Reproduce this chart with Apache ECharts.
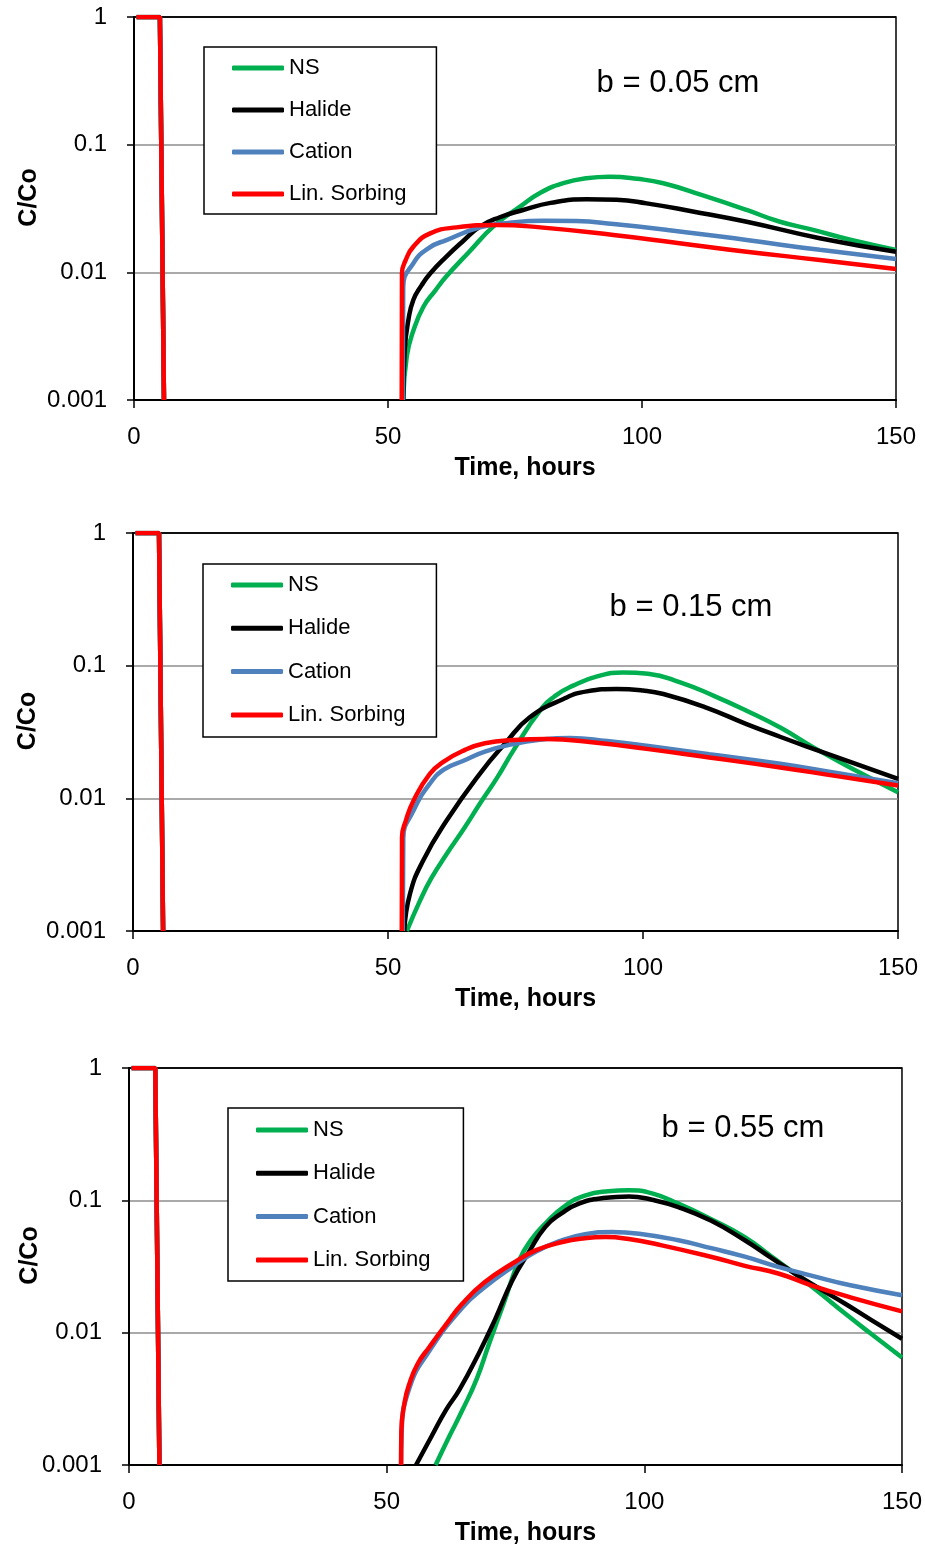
<!DOCTYPE html>
<html><head><meta charset="utf-8">
<script src="https://cdn.jsdelivr.net/npm/echarts@6/dist/echarts.min.js"></script>
<style>html,body{margin:0;padding:0;background:#fff}#c{width:925px;height:1548px}</style>
</head><body><div id="c"></div>
<script>
// ---------- data ----------
const seriesNames = ['NS', 'Halide', 'Cation', 'Lin. Sorbing'];
const panelLabels = ['b = 0.05 cm', 'b = 0.15 cm', 'b = 0.55 cm'];
const xTicks = [0, 50, 100, 150];
const yTickLabels = ['0.001', '0.01', '0.1', '1'];
const xTitle = 'Time, hours';
const yTitle = 'C/Co';

// injection pulse (identical for all tracers), [hours, C/Co]
const pulse = [[0.5, 1], [5.1, 1], [5.9, 0.001]];

// panel 1: b = 0.05 cm
const p1_NS = [[53.0,0.001],[53.7,0.0022],[55,0.0035],[57,0.0054],[59.3,0.0072],[61.5,0.0093],[66,0.0145],[70.7,0.0228],[76,0.0327],[80,0.042],[84.5,0.0499],[89,0.0545],[93.7,0.056],[99,0.054],[104.2,0.0499],[112,0.04],[120.6,0.0308],[127,0.025],[133.7,0.0215],[141,0.018],[150,0.015]];
const p1_Halide = [[53,0.001],[53.3,0.0025],[54,0.0042],[55,0.0061],[56.6,0.0079],[58.3,0.0098],[61.5,0.0133],[64.8,0.0176],[68.1,0.0228],[72,0.027],[76.6,0.0308],[82,0.035],[89.1,0.0373],[95,0.037],[100.9,0.0347],[110,0.030],[120.6,0.0249],[135,0.0185],[150,0.0145]];
const p1_Cation = [[52.9,0.001],[53,0.0077],[55,0.0118],[58,0.0155],[61.5,0.0179],[68.1,0.0225],[74,0.0245],[80.6,0.0254],[87,0.0252],[94.4,0.0239],[105,0.0215],[120.6,0.0179],[135,0.015],[150,0.0127]];
const p1_LinSorbing = [[52.7,0.001],[52.75,0.0098],[53.5,0.0125],[55,0.0159],[58.3,0.0202],[63.5,0.0225],[71.4,0.0235],[80,0.0225],[94.4,0.0196],[107,0.017],[120.6,0.0145],[135,0.0125],[150,0.0106]];

// panel 2: b = 0.15 cm
const p2_NS = [[53.7,0.001],[56.3,0.0017],[58.5,0.0025],[61.5,0.0038],[65,0.006],[68,0.0091],[71.5,0.0145],[74.6,0.023],[79.8,0.0458],[83,0.06],[86.3,0.0707],[91,0.083],[96.1,0.089],[101,0.087],[107.3,0.0749],[114,0.059],[120.3,0.0458],[127,0.034],[133.4,0.0242],[142,0.016],[150,0.0111]];
const p2_Halide = [[53.2,0.001],[54.3,0.0019],[56.9,0.0034],[61.5,0.0068],[68,0.0153],[73,0.026],[77.8,0.0408],[84.4,0.0561],[89,0.064],[94.8,0.0667],[100,0.065],[104,0.0612],[112,0.049],[120.3,0.0363],[127,0.029],[133.4,0.0236],[142,0.018],[150,0.014]];
const p2_Cation = [[52.9,0.001],[53,0.005],[55,0.0081],[58.2,0.0129],[61,0.0165],[64.8,0.0192],[69,0.0225],[74.6,0.0257],[80,0.0277],[85.7,0.0285],[93,0.027],[100.7,0.0249],[113,0.0215],[126.9,0.0182],[138,0.0155],[150,0.013]];
const p2_LinSorbing = [[52.7,0.001],[52.75,0.0051],[53.5,0.0068],[55,0.0096],[58.2,0.0153],[61,0.019],[64.8,0.0229],[69,0.026],[74.6,0.0275],[81.1,0.028],[90,0.0265],[100.7,0.0236],[113,0.0203],[126.9,0.0171],[138,0.0147],[150,0.0125]];

// panel 3: b = 0.55 cm
const p3_NS = [[59.5,0.001],[62,0.0016],[64.7,0.0026],[67.5,0.0045],[69.9,0.0083],[72.8,0.017],[75.7,0.0352],[78,0.05],[80.8,0.0667],[84.5,0.09],[88.6,0.109],[93,0.117],[97,0.119],[101.5,0.113],[106.6,0.0944],[113,0.072],[119.5,0.0528],[124.5,0.038],[129.2,0.028],[134,0.02],[138.9,0.014],[144,0.0098],[150,0.0065]];
const p3_Halide = [[55.7,0.001],[58.9,0.0017],[61.5,0.0026],[64.1,0.0037],[67.9,0.007],[71,0.0125],[74.4,0.0249],[77.5,0.04],[80.8,0.063],[84,0.08],[87.3,0.0944],[92,0.104],[97,0.107],[101.5,0.101],[106.6,0.089],[113,0.07],[119.5,0.0499],[124.5,0.037],[129.2,0.028],[134,0.0215],[138.9,0.0166],[144,0.0125],[150,0.009]];
const p3_Cation = [[52.8,0.001],[52.9,0.0017],[54.4,0.0038],[58.3,0.0073],[64.7,0.0155],[69,0.022],[74.4,0.0314],[79,0.041],[84.1,0.05],[88.5,0.0555],[93.7,0.0577],[99,0.056],[106.6,0.0499],[113,0.0435],[119.5,0.0375],[126,0.0314],[132.4,0.027],[140,0.0228],[150,0.0192]];
const p3_LinSorbing = [[52.8,0.001],[52.85,0.0018],[53.5,0.003],[54.4,0.0041],[56,0.0058],[58.3,0.0078],[61.5,0.0115],[64.7,0.0166],[69,0.024],[74.4,0.0333],[79,0.042],[84.1,0.0484],[88,0.0515],[92.5,0.0528],[97,0.051],[103.4,0.0457],[113.1,0.0373],[119.5,0.032],[126,0.028],[132.4,0.0228],[140,0.0185],[150,0.0145]];

const panelData = [
  [p1_NS, p1_Halide, p1_Cation, p1_LinSorbing],
  [p2_NS, p2_Halide, p2_Cation, p2_LinSorbing],
  [p3_NS, p3_Halide, p3_Cation, p3_LinSorbing]
];

// ---------- layout / style ----------
const colors = ['#00B050', '#000000', '#4F81BD', '#FF0000'];
const FONT = '"Liberation Sans", Arial, sans-serif';
const grids = [
  { left: 134, top: 17, width: 762, height: 383 },
  { left: 133, top: 533, width: 765, height: 398 },
  { left: 129, top: 1068, width: 775, height: 397 }
];
const legendBoxes = [
  { left: 204, top: 47, gap: 20, pad: [10, 30, 9, 28] },
  { left: 203, top: 564, gap: 21.3, pad: [10, 31, 11, 28] },
  { left: 228, top: 1108, gap: 21.3, pad: [11, 33, 10, 28] }
];
const labelPos = [[678, 83], [691, 607], [743, 1128]];
const yNameGap = [92, 92, 86];

const xAxes = [], yAxes = [], series = [], legends = [], graphics = [];
grids.forEach((g, p) => {
  xAxes.push({
    type: 'value', gridIndex: p, min: xTicks[0], max: xTicks[xTicks.length - 1], interval: 50,
    name: xTitle, nameLocation: 'middle', nameGap: 56, nameMoveOverlap: false,
    nameTextStyle: { fontFamily: FONT, fontSize: 25, fontWeight: 'bold', color: '#000', padding: [0, 0, 0, 20] },
    axisLine: { show: true, onZero: false, lineStyle: { color: '#000', width: 2 } },
    axisTick: { show: true, inside: false, length: 8, lineStyle: { color: '#000', width: 1.5 } },
    axisLabel: { fontFamily: FONT, fontSize: 24, color: '#000', margin: 25 },
    splitLine: { show: false }
  });
  yAxes.push({
    type: 'log', logBase: 10, gridIndex: p, min: 0.001, max: 1,
    name: yTitle, nameLocation: 'middle', nameRotate: 90, nameGap: yNameGap[p], nameMoveOverlap: false,
    nameTextStyle: { fontFamily: FONT, fontSize: 25, fontWeight: 'bold', color: '#000', padding: [0, 0, 0, 22] },
    axisLine: { show: true, lineStyle: { color: '#000', width: 2 } },
    axisTick: { show: true, inside: false, length: 7, lineStyle: { color: '#000', width: 1.5 } },
    axisLabel: { fontFamily: FONT, fontSize: 24, color: '#000', margin: 27,
      formatter: v => yTickLabels[Math.round(Math.log10(v)) + 3] },
    splitLine: { show: true, lineStyle: { color: ['#000', '#8c8c8c', '#8c8c8c', '#000'], width: 1.5 } },
    minorTick: { show: false }
  });
  // pulse segments (unsmoothed)
  seriesNames.forEach((n, k) => {
    series.push({
      name: n, type: 'line', xAxisIndex: p, yAxisIndex: p, data: pulse,
      showSymbol: false, symbol: 'none', smooth: false, clip: true,
      lineStyle: { color: colors[k], width: 4.5 }, itemStyle: { color: colors[k] },
      z: 2 + k, silent: true
    });
  });
  // breakthrough curves
  seriesNames.forEach((n, k) => {
    series.push({
      name: n, type: 'line', xAxisIndex: p, yAxisIndex: p, data: panelData[p][k],
      showSymbol: false, symbol: 'none', smooth: 0.5, clip: true,
      lineStyle: { color: colors[k], width: 4.5 }, itemStyle: { color: colors[k] },
      z: 2 + k
    });
  });
  const lb = legendBoxes[p];
  legends.push({
    data: seriesNames, orient: 'vertical', left: lb.left, top: lb.top,
    padding: lb.pad, itemGap: lb.gap, itemWidth: 52, itemHeight: 5, icon: 'roundRect',
    borderColor: '#000', borderWidth: 1.5, backgroundColor: '#fff',
    textStyle: { fontFamily: FONT, fontSize: 22, color: '#000', lineHeight: 22 },
    selectedMode: false
  });
  graphics.push({
    type: 'text', x: labelPos[p][0], y: labelPos[p][1],
    style: { text: panelLabels[p], font: '31px ' + FONT, fill: '#000', align: 'center', verticalAlign: 'middle' }
  });
});

const chart = echarts.init(document.getElementById('c'), null, { renderer: 'canvas' });
chart.setOption({
  backgroundColor: '#fff',
  animation: false,
  grid: grids.map(g => Object.assign({ show: true, borderColor: '#000', borderWidth: 1.5, containLabel: false }, g)),
  xAxis: xAxes,
  yAxis: yAxes,
  legend: legends,
  series: series,
  graphic: graphics
});
</script>
</body></html>
